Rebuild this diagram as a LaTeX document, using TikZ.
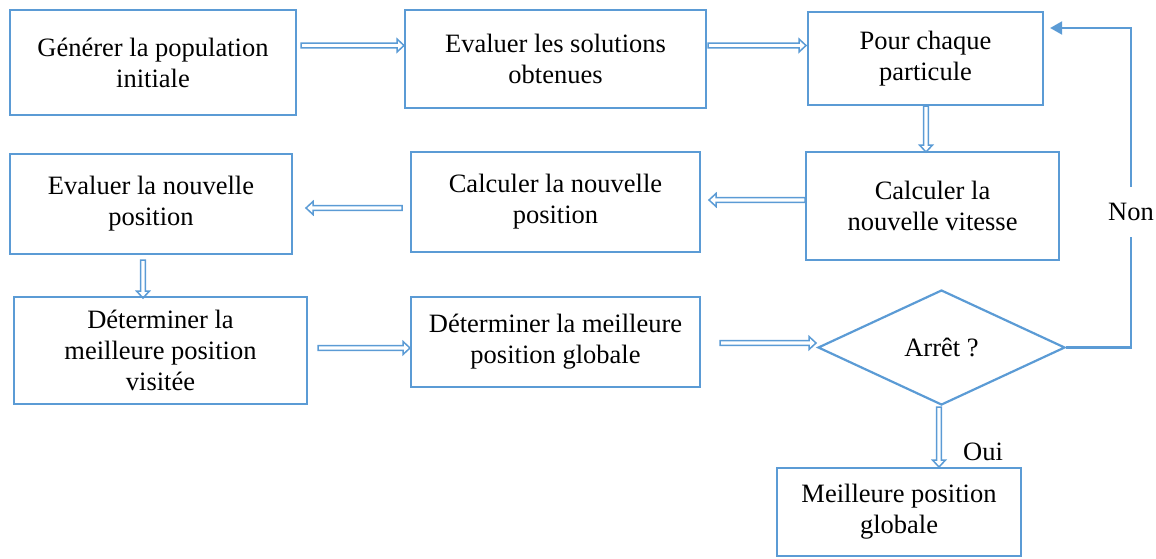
\documentclass[tikz,border=0pt]{standalone}
\usepackage{fontspec}
\setmainfont{Liberation Serif}
\usetikzlibrary{shapes.geometric,arrows.meta,calc}
\definecolor{flowblue}{HTML}{5B9BD5}

% outlined block arrow from #1 to #2
\newcommand\blockarrow[2]{%
  \draw[arrowline] let \p1=(#1), \p2=(#2),
    \n1={atan2(\y2-\y1,\x2-\x1)}, \n2={veclen(\x2-\x1,\y2-\y1)} in
    [shift={(\p1)}, rotate=\n1]
    (0pt,-2.4pt) -- ({(\n2-7)*1pt},-2.4pt) -- ({(\n2-7)*1pt},-6.5pt)
    -- ({\n2*1pt},0pt) -- ({(\n2-7)*1pt},6.5pt) -- ({(\n2-7)*1pt},2.4pt)
    -- (0pt,2.4pt) -- cycle;}

\begin{document}
\begin{tikzpicture}[x=1pt,y=-1pt,
  every node/.style={font=\fontsize{26.5}{31}\selectfont},
  box/.style={draw=flowblue, line width=2.2pt, rectangle, align=center, inner sep=0pt},
  arrowline/.style={draw=flowblue, line width=1.5pt, line join=miter},
  loopline/.style={draw=flowblue, line width=2.2pt}]
\useasboundingbox (0,0) rectangle (1156,558);

\node[box, minimum width=286pt, minimum height=105pt] (b1) at (153,62.5) {Générer la population\\initiale};
\node[box, minimum width=301pt, minimum height=98pt] (b2) at (555.5,59) {Evaluer les solutions\\obtenues};
\node[box, minimum width=235pt, minimum height=93pt] (b3) at (925.5,58.5) {Pour chaque\\particule};
\node[box, minimum width=253pt, minimum height=108pt] (b4) at (932.5,206) {Calculer la\\nouvelle vitesse};
\node[box, minimum width=289pt, minimum height=100pt] (b5) at (555.5,202) {Calculer la nouvelle\\position};
\node[box, minimum width=282pt, minimum height=100pt] (b6) at (151,204) {Evaluer la nouvelle\\position};
\node[box, minimum width=293pt, minimum height=107pt] (b7) at (160.5,350.5) {Déterminer la\\meilleure position\\visitée};
\node[box, minimum width=289pt, minimum height=90pt] (b8) at (555.5,342) {Déterminer la meilleure\\position globale};
\node[draw=flowblue, line width=2.2pt, diamond, aspect=2.15, minimum width=247pt, minimum height=115pt, inner sep=0pt] (d) at (941.5,347.5) {Arrêt ?};
\node[box, minimum width=244pt, minimum height=88pt] (b9) at (899,512) {Meilleure position\\globale};

% arrow end points
\coordinate (a1s) at (301,45.5);   \coordinate (a1e) at (404,45.5);
\coordinate (a2s) at (708,45.5);   \coordinate (a2e) at (806,45.5);
\coordinate (a3s) at (926,106);    \coordinate (a3e) at (926,152);
\coordinate (a4s) at (805,200);    \coordinate (a4e) at (709,200);
\coordinate (a5s) at (402,208);    \coordinate (a5e) at (306,208);
\coordinate (a6s) at (143,260);    \coordinate (a6e) at (143,298);
\coordinate (a7s) at (318,348);    \coordinate (a7e) at (410,348);
\coordinate (a8s) at (720,343);    \coordinate (a8e) at (816,343);
\coordinate (a9s) at (939,407);    \coordinate (a9e) at (939,467);

\blockarrow{a1s}{a1e}
\blockarrow{a2s}{a2e}
\blockarrow{a3s}{a3e}
\blockarrow{a4s}{a4e}
\blockarrow{a5s}{a5e}
\blockarrow{a6s}{a6e}
\blockarrow{a7s}{a7e}
\blockarrow{a8s}{a8e}
\blockarrow{a9s}{a9e}

% loop back when not finished
\coordinate (nc) at (1131,347.5);
\coordinate (nt) at (1131,28);
\draw[loopline, -{Triangle[length=12pt,width=13pt]}] (d.east) -- (nc) -- (nt) -- ($(b3.east |- nt)+(6,0)$);
\node[fill=white, inner xsep=1pt, inner ysep=16pt] (non) at (1131,212) {Non};
\node (oui) at (983,452) {Oui};
\end{tikzpicture}
\end{document}
